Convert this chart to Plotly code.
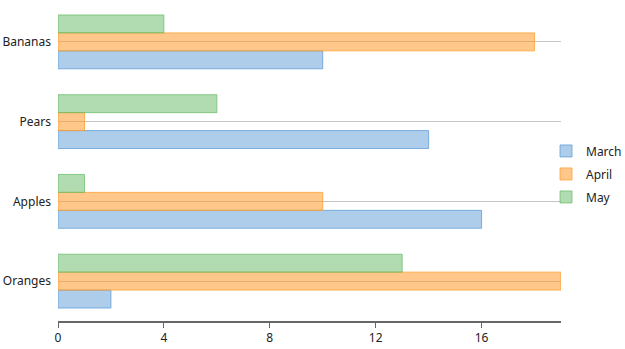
import plotly.graph_objects as go

categories = ["Bananas", "Pears", "Apples", "Oranges"]
series_names = ["March", "April", "May"]
march = [10, 14, 16, 2]
april = [18, 1, 10, 19]
may = [4, 6, 1, 13]
x_ticks = [0, 4, 8, 12, 16]

fills = ["rgba(91,155,213,0.5)", "rgba(255,153,40,0.55)", "rgba(100,185,100,0.5)"]
borders = ["rgba(91,155,213,0.75)", "rgba(255,160,50,0.8)", "rgba(100,185,100,0.7)"]

fig = go.Figure()
for i, (name, vals) in enumerate(zip(series_names, [march, april, may])):
    fig.add_trace(go.Bar(
        y=categories, x=vals, name=name, orientation="h",
        legendgroup=name,
        marker=dict(color=fills[i], line=dict(color=borders[i], width=1)),
    ))

fig.update_layout(
    width=625, height=349,
    margin=dict(l=58, r=64, t=2, b=28, autoexpand=False),
    paper_bgcolor="white", plot_bgcolor="white",
    barmode="group", bargap=0.325, bargroupgap=0,
    font=dict(family="Noto Sans, Open Sans, sans-serif", size=12, color="#222"),
    legend=dict(xref="container", x=546 / 625, xanchor="left",
                y=0.461, yanchor="middle", bgcolor="rgba(0,0,0,0)",
                traceorder="grouped", tracegroupgap=4,
                font=dict(size=12), itemwidth=30),
    xaxis=dict(range=[0, 19], tickvals=x_ticks, showgrid=False, zeroline=False,
               showline=True, linecolor="#666", linewidth=2,
               ticks="outside", ticklen=5, tickcolor="#666", tickwidth=1),
    yaxis=dict(categoryorder="array", categoryarray=categories[::-1],
               showgrid=True, gridcolor="#c4c4c4", gridwidth=1,
               showline=False, ticks="", ticklabelstandoff=6, zeroline=False),
)

fig.write_html("out.html")
